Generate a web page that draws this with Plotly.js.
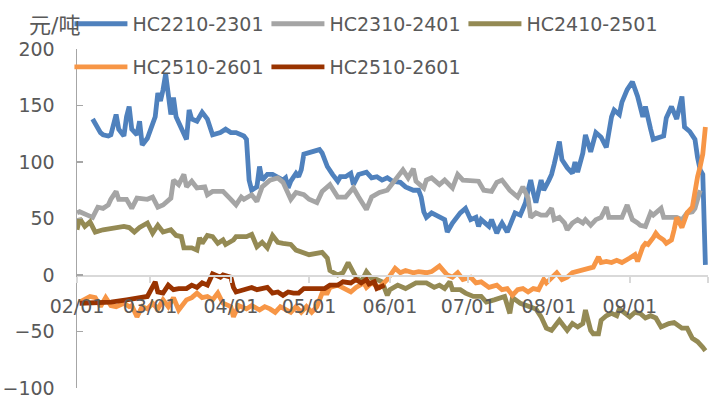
<!DOCTYPE html>
<html><head><meta charset="utf-8">
<script src="https://cdn.plot.ly/plotly-3.0.1.min.js"></script>
<style>html,body{margin:0;padding:0;background:#fff}#chart{width:724px;height:405px}</style>
</head><body><div id="chart"></div>
<script>
const YEAR = '2025';
const seriesNames = ['HC2210-2301','HC2310-2401','HC2410-2501','HC2510-2601','HC2510-2601'];
const unitLabel = '元/吨';
const tickDates = ['02-01','03-01','04-01','05-01','06-01','07-01','08-01','09-01','10-01'];
const tickLabels = ['02/01','03/01','04/01','05/01','06/01','07/01','08/01','09/01',''];

const blueDates = ['02-07','02-09','02-10','02-11','02-13','02-14','02-16','02-17','02-19','02-20','02-21','02-22','02-24','02-25','02-26','02-28',
'03-02','03-03','03-04','03-05','03-06','03-07','03-09','03-10','03-11','03-13','03-15','03-16','03-17','03-19','03-21','03-23','03-25','03-28','03-30',
'04-01','04-03','04-06','04-07','04-08','04-09','04-11','04-12','04-13','04-15','04-17','04-19','04-21','04-22','04-23','04-24','04-26','04-27','04-28','04-29',
'05-02','05-05','05-06','05-08','05-10','05-12','05-13','05-15','05-17','05-18','05-20','05-23','05-25','05-27','05-29','05-31',
'06-02','06-05','06-07','06-10','06-12','06-13','06-14','06-15','06-17','06-20','06-22','06-23','06-25','06-28','06-30',
'07-02','07-04','07-05','07-06','07-07','07-09','07-10','07-12','07-13','07-14','07-16','07-18','07-19','07-21','07-22','07-23','07-24','07-25','07-26','07-27','07-29','07-30',
'08-01','08-02','08-03','08-05','08-06','08-08','08-10','08-11','08-12','08-14','08-15','08-17','08-19','08-21','08-23','08-25','08-26','08-28','08-29','08-31',
'09-02','09-04','09-06','09-07','09-09','09-10','09-14','09-15','09-17','09-18','09-19','09-21','09-22','09-24','09-26','09-27','09-28','09-29','09-30'];
const blueValues = [138,129,126,124,123,124,142,129,123,140,149,129,124,136,115,121,
133,140,161,154,164,178,142,157,140,130,120,146,138,136,144,138,124,126,129,
126,126,123,120,84,75,78,96,84,89,89,86,84,86,77,83,90,87,93,107,
109,111,108,96,89,83,87,87,90,80,89,91,86,87,84,86,
83,82,78,75,75,69,56,51,55,51,49,38,46,55,59,
49,51,43,49,47,43,49,37,42,46,38,49,55,53,58,64,75,84,73,64,84,75,
84,89,98,118,102,95,90,100,91,108,124,109,126,122,113,140,146,142,153,164,
171,158,140,149,129,120,123,139,149,144,138,158,131,127,120,104,93,89,9];

const grayDates = ['02-01','02-02','02-05','02-07','02-09','02-11','02-13','02-14','02-16','02-17','02-20','02-22','02-24','02-28',
'03-02','03-04','03-06','03-07','03-09','03-10','03-12','03-14','03-15','03-17','03-19','03-22','03-23','03-25','03-29',
'04-01','04-03','04-05','04-06','04-09','04-11','04-13','04-16','04-19','04-21','04-24','04-26','04-29',
'05-01','05-04','05-06','05-09','05-12','05-15','05-18','05-20','05-23','05-25','05-28','05-31',
'06-03','06-06','06-08','06-10','06-11','06-14','06-15','06-17','06-20','06-22','06-25','06-27','06-29',
'07-02','07-05','07-07','07-10','07-12','07-14','07-17','07-20','07-22','07-24','07-25','07-27','07-29','07-31',
'08-02','08-03','08-05','08-07','08-08','08-10','08-12','08-14','08-15','08-17','08-19','08-21','08-23','08-24','08-27','08-29','08-31',
'09-02','09-04','09-05','09-07','09-09','09-10','09-13','09-14','09-17','09-19','09-21','09-23','09-25','09-26','09-27','09-28'];
const grayValues = [55,56,53,51,60,59,62,67,74,67,67,59,68,67,
69,60,62,64,68,84,80,89,78,83,77,78,71,74,74,
67,62,69,67,71,65,78,84,86,82,67,73,71,
67,64,74,80,69,69,77,69,58,69,73,75,
84,93,86,94,83,77,84,86,80,84,77,89,84,
84,83,75,74,82,84,75,69,78,68,51,55,53,53,
59,49,51,46,40,46,49,46,49,44,49,51,60,51,51,51,62,
49,46,44,43,55,53,59,51,51,51,49,55,56,59,67,75];

const oliveDates = ['02-01','02-02','02-04','02-06','02-08','02-11','02-19','02-21','02-23','02-25','02-28',
'03-02','03-04','03-06','03-09','03-11','03-13','03-14','03-17','03-19','03-20','03-21','03-23','03-25','03-27','03-29','03-30',
'04-02','04-03','04-07','04-09','04-11','04-13','04-15','04-17','04-19','04-21','04-24','04-26','04-28',
'05-01','05-06','05-08','05-09','05-12','05-14','05-16','05-19','05-21','05-23','05-25','05-27','05-29','05-31',
'06-01','06-04','06-07','06-11','06-15','06-18','06-20','06-22','06-24','06-25','06-28','06-30',
'07-03','07-06','07-08','07-11','07-13','07-15','07-17','07-18','07-21','07-23','07-27','07-29','07-31',
'08-02','08-04','08-05','08-08','08-10','08-12','08-14','08-15','08-17','08-18','08-20','08-21','08-23','08-25','08-27','08-28','08-30',
'09-01','09-03','09-05','09-07','09-09','09-11','09-13','09-16','09-18','09-21','09-23','09-25','09-27','09-29','09-30'];
const oliveValues = [40,50,43,47,38,40,43,42,38,42,46,
37,44,38,40,35,34,24,24,22,33,28,35,34,28,31,27,
31,34,34,36,25,29,24,35,29,28,27,22,20,
18,20,15,4,0,2,11,-2,-6,3,-3,-4,-6,-18,
-13,-9,-12,-7,-7,-11,-9,-12,-6,-13,-13,-16,
-19,-19,-24,-22,-20,-19,-34,-20,-25,-27,-30,-37,-47,
-49,-42,-40,-49,-43,-46,-43,-31,-49,-52,-52,-40,-36,-34,-36,-30,-34,
-37,-33,-34,-38,-36,-38,-46,-43,-42,-47,-47,-56,-59,-64,-67];

const orangeDates = ['02-02','02-06','02-08','02-10','02-12','02-14','02-16','02-19','02-21','02-22','02-24','02-26','02-28',
'03-02','03-04','03-06','03-08','03-10','03-12','03-15','03-17','03-19','03-21','03-23','03-25','03-27','03-29',
'04-01','04-02','04-04','04-07','04-09','04-12','04-14','04-16','04-18','04-20','04-22','04-24','04-26','04-28','04-30',
'05-02','05-04','05-06','05-08','05-09','05-12','05-15','05-17','05-19','05-22','05-23','05-25','05-28','05-31',
'06-03','06-05','06-07','06-10','06-12','06-15','06-17','06-20','06-23','06-25','06-27','06-29',
'07-02','07-04','07-06','07-09','07-12','07-14','07-16','07-18','07-20','07-22','07-24','07-26','07-28','07-30','07-31',
'08-02','08-04','08-06','08-08','08-10','08-13','08-15','08-18','08-20','08-21','08-23','08-25','08-27','08-29',
'09-01','09-03','09-04','09-06','09-07','09-08','09-10','09-11','09-12','09-14','09-15','09-17','09-18','09-19','09-21','09-22','09-23','09-25','09-26','09-27','09-28','09-29','09-30'];
const orangeValues = [-24,-19,-20,-28,-20,-27,-28,-25,-28,-27,-37,-28,-30,
-25,-30,-22,-28,-20,-31,-22,-20,-16,-20,-19,-22,-16,-25,
-28,-37,-27,-30,-27,-31,-28,-30,-33,-28,-31,-33,-28,-33,-28,
-33,-28,-16,-16,-11,-9,-13,-15,-11,-7,-11,-7,-11,-4,
6,2,4,2,3,2,3,8,0,-2,2,-4,
-2,-7,-6,-11,-9,-13,-12,-18,-13,-12,-15,-12,-13,-4,-7,
-2,2,-4,-2,2,4,6,7,16,11,12,11,13,11,
15,18,12,25,28,27,33,37,34,31,28,31,40,51,42,49,55,60,75,87,96,107,131];

const redDates = ['02-02','02-05','02-09','02-14','02-20','02-26','02-28',
'03-03','03-04','03-06','03-08','03-10','03-12','03-15','03-17','03-19','03-21','03-23','03-25','03-28','03-29',
'04-01','04-02','04-03','04-07','04-09','04-11','04-13','04-15','04-17','04-19','04-21','04-23','04-25','04-27','04-29',
'05-02','05-05','05-07','05-09','05-12','05-14','05-17','05-19','05-21','05-23','05-24','05-26','05-27','05-30'];
const redValues = [-25,-25,-24,-24,-22,-20,-19,
-6,-15,-16,-9,-13,-12,-12,-9,-11,-7,-9,1,-2,0,
-2,-11,-15,-12,-11,-13,-12,-11,-16,-15,-18,-15,-16,-16,-12,
-12,-12,-12,-9,-9,-6,-7,-4,-7,-4,-8,-6,-12,-9];

const colors = ['#4F81BD','#A5A5A5','#948A54','#F79646','#993300'];
const FONT = 'DejaVu Sans, Noto Sans CJK SC, sans-serif';
const TXT = '#595959';

const d = arr => arr.map(s => YEAR + '-' + s);
const allDates = [blueDates, grayDates, oliveDates, orangeDates, redDates];
const allValues = [blueValues, grayValues, oliveValues, orangeValues, redValues];

const traces = allDates.map((ds, i) => ({
  type: 'scatter', mode: 'lines', name: seriesNames[i],
  x: d(ds), y: allValues[i],
  line: {color: colors[i], width: 4.8, shape: 'linear'},
  legend: i < 3 ? 'legend' : 'legend2',
  hoverinfo: 'skip'
}));

const legendBase = {
  orientation: 'h', xanchor: 'left', yanchor: 'middle',
  xref: 'container', x: 0.0959,
  font: {family: FONT, size: 19, color: TXT},
  bgcolor: 'rgba(0,0,0,0)', borderwidth: 0,
  entrywidth: 129, entrywidthmode: 'pixels', itemwidth: 53, traceorder: 'normal'
};

const layout = {
  width: 724, height: 405,
  margin: {l: 77, r: 16, t: 49, b: 17, autoexpand: false},
  paper_bgcolor: '#fff', plot_bgcolor: '#fff',
  font: {family: FONT, size: 19, color: TXT},
  showlegend: true,
  legend: Object.assign({}, legendBase, {y: 1.074}),
  legend2: Object.assign({}, legendBase, {y: 0.947}),
  xaxis: {
    type: 'date', range: [YEAR + '-02-01', YEAR + '-10-01'],
    tickmode: 'array', tickvals: d(tickDates), ticktext: tickLabels,
    anchor: 'free', position: 1/3,
    showline: true, linecolor: '#D9D9D9', linewidth: 1.5,
    ticks: 'outside', ticklen: 6, tickcolor: '#D9D9D9', tickwidth: 1.5,
    showgrid: false, zeroline: false,
    tickfont: {family: FONT, size: 19, color: TXT},
    ticklabelstandoff: 8
  },
  yaxis: {
    range: [-100, 200], tickmode: 'linear', tick0: -100, dtick: 50,
    showline: true, linecolor: '#A6A6A6', linewidth: 1.5,
    ticks: 'inside', ticklen: 6, tickcolor: '#A6A6A6', tickwidth: 1.5,
    showgrid: false, zeroline: false,
    tickfont: {family: FONT, size: 19, color: TXT},
    ticklabelstandoff: 17
  },
  annotations: [{
    text: unitLabel, xref: 'paper', yref: 'paper',
    x: -0.079, y: 1.068, xanchor: 'left', yanchor: 'middle',
    showarrow: false, font: {family: FONT, size: 22, color: TXT}
  }]
};

Plotly.newPlot('chart', traces, layout, {staticPlot: true, displayModeBar: false});
</script></body></html>
